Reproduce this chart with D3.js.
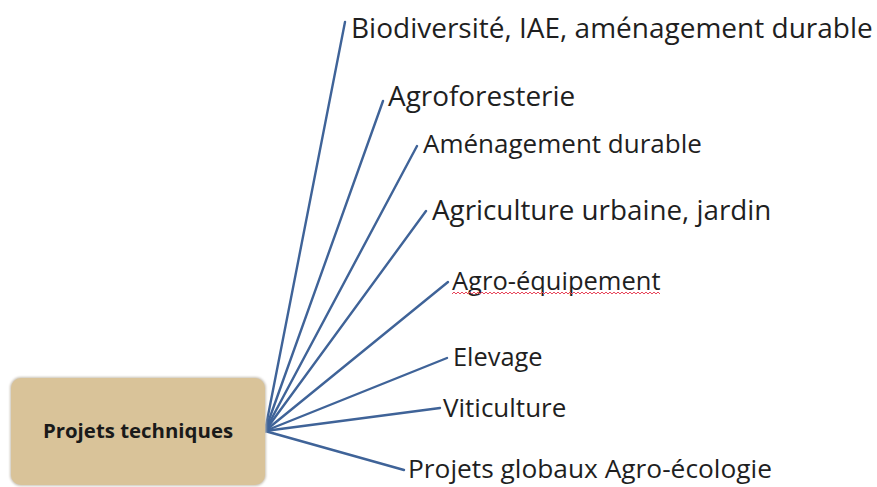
<!DOCTYPE html>
<html>
<head>
<meta charset="utf-8">
<script src="https://cdn.jsdelivr.net/npm/d3@7"></script>
<style>
  html, body { margin: 0; padding: 0; background: #fff; }
  svg { display: block; }
  .branch-label { font-family: "Open Sans", sans-serif; fill: #1f1f1f; }
  .root-label { font-family: "Open Sans", sans-serif; font-weight: 700; fill: #1a1a1a; }
</style>
</head>
<body>
<div id="chart"></div>
<script>
// mind-map content
const rootLabel = 'Projets techniques';
const branchLabels = [
  'Biodiversité, IAE, aménagement durable',
  'Agroforesterie',
  'Aménagement durable',
  'Agriculture urbaine, jardin',
  'Agro-équipement',
  'Elevage',
  'Viticulture',
  'Projets globaux Agro-écologie'
];
// words flagged by the spell checker (red wavy underline)
const flagged = ['Agro-équipement'];

// layout (where each branch ends, where its text baseline sits, text size)
const branchEnds = [
  [345, 22], [383, 101], [417, 146], [426, 211],
  [448, 282], [447, 358], [440, 408], [404, 470]
];
const labelOffsets = [
  [6, 16], [5, 5], [6, 7], [6, 9],
  [4, 8], [6, 8], [3, 9], [4, 8]
];
const labelSizes = [28, 27.9, 26, 27.8, 25.5, 25.4, 26, 26.3];

const width = 877;
const height = 487;

const svg = d3.select('#chart')
  .append('svg')
  .attr('width', width)
  .attr('height', height);

const box = { x: 11, y: 378, w: 254, h: 107, r: 10 };
const origin = [box.x + box.w, 431];

const nodes = branchLabels.map((label, i) => ({
  label,
  end: branchEnds[i],
  offset: labelOffsets[i],
  size: labelSizes[i]
}));

// branches
svg.append('g')
  .selectAll('line')
  .data(nodes)
  .join('line')
  .attr('x1', origin[0])
  .attr('y1', origin[1])
  .attr('x2', (d) => d.end[0])
  .attr('y2', (d) => d.end[1])
  .attr('stroke', '#3f6398')
  .attr('stroke-width', 2.4)
  .attr('stroke-linecap', 'round');

// root box
const shadow = svg.append('defs')
  .append('filter')
  .attr('id', 'soft')
  .attr('x', '-10%')
  .attr('y', '-10%')
  .attr('width', '120%')
  .attr('height', '120%');
shadow.append('feGaussianBlur').attr('stdDeviation', 1.2);

svg.append('rect')
  .attr('x', box.x - 1)
  .attr('y', box.y - 1)
  .attr('width', box.w + 2)
  .attr('height', box.h + 2)
  .attr('rx', box.r + 1)
  .attr('fill', '#c9c2b6')
  .attr('filter', 'url(#soft)');

svg.append('rect')
  .attr('x', box.x)
  .attr('y', box.y)
  .attr('width', box.w)
  .attr('height', box.h)
  .attr('rx', box.r)
  .attr('fill', '#d9c399');

svg.append('text')
  .attr('class', 'root-label')
  .attr('x', box.x + box.w / 2)
  .attr('y', 438)
  .attr('text-anchor', 'middle')
  .attr('font-size', 20.4)
  .text(rootLabel);

// branch labels
const labels = svg.append('g')
  .selectAll('text')
  .data(nodes)
  .join('text')
  .attr('class', 'branch-label')
  .attr('x', (d) => d.end[0] + d.offset[0])
  .attr('y', (d) => d.end[1] + d.offset[1])
  .attr('font-size', (d) => d.size)
  .text((d) => d.label);

// spell-check squiggle under flagged words
labels.filter((d) => flagged.includes(d.label)).each(function (d) {
  const bb = this.getBBox();
  const y0 = d.end[1] + d.offset[1] + 3;
  const step = 2;
  const pts = d3.range(bb.x, bb.x + bb.width, step)
    .map((x, k) => [x, y0 + (k % 2 ? -1 : 1)]);
  svg.append('path')
    .attr('d', d3.line()(pts))
    .attr('fill', 'none')
    .attr('stroke', '#e8455a')
    .attr('stroke-width', 1);
});
</script>
</body>
</html>
